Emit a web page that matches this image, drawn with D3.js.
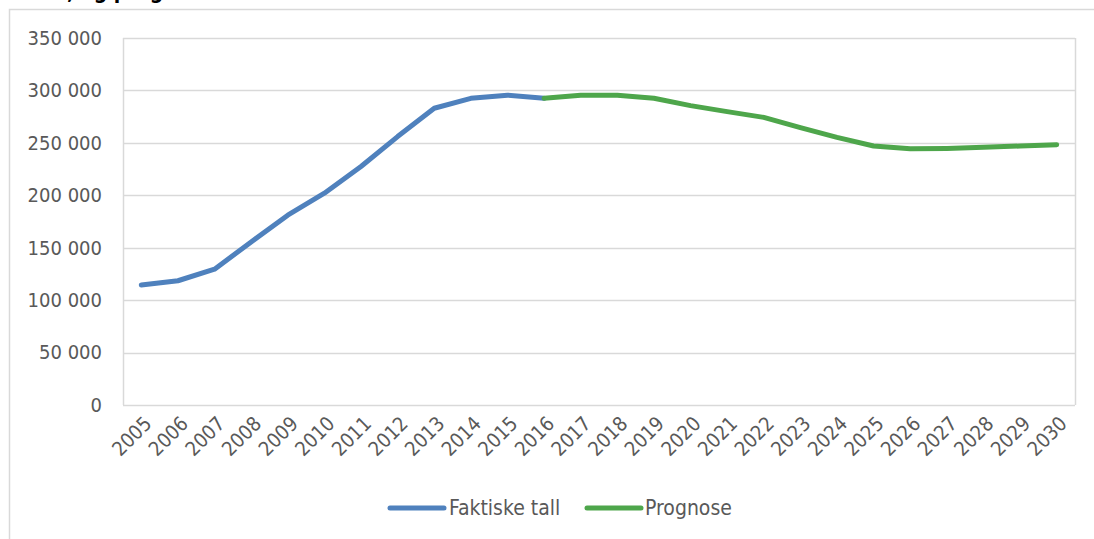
<!DOCTYPE html>
<html>
<head>
<meta charset="utf-8">
<script src="https://cdn.jsdelivr.net/npm/d3@7/dist/d3.min.js"></script>
<style>
  body { margin: 0; background: #fff; }
  svg { display: block; }
</style>
</head>
<body>
<div class="wrap"></div>
<script>
const years = ["2005","2006","2007","2008","2009","2010","2011","2012","2013","2014","2015","2016","2017",
  "2018","2019","2020","2021","2022","2023","2024","2025","2026","2027","2028","2029","2030"];
// faktiske tall 2005-2016
const actualYears = years.slice(0, 12);
const actualValues = [114500, 118500, 129500, 155500, 181000, 202000, 227500, 256000, 283000, 292500, 295500, 292500];
// prognose 2016-2030
const forecastYears = years.slice(11);
const forecastValues = [292500, 295300, 295500, 292500, 285500, 279800, 274300, 264500, 255200, 247000, 244300, 244700, 245700, 247000, 248200];
const yTicks = [0, 50000, 100000, 150000, 200000, 250000, 300000, 350000];
const seriesNames = ["Faktiske tall", "Prognose"];
const colors = ["#4f81bd", "#4ea64b"];

const W = 1094, H = 539;
const font = "'DejaVu Sans Condensed', 'DejaVu Sans', sans-serif";
const plot = {left: 123, right: 1075, top: 38, bottom: 405};

const svg = d3.select(".wrap").append("svg")
    .attr("width", W).attr("height", H)
    .attr("viewBox", [0, 0, W, H]);

// ytre ramme (beskåret)
svg.append("path")
    .attr("d", "M9.5," + H + "V9.5H" + W)
    .attr("fill", "none")
    .attr("stroke", "#d9d9d9")
    .attr("stroke-width", 1.5);

// tittel, nesten helt utenfor bildet
svg.append("text")
    .attr("x", 67).attr("y", -1)
    .attr("font-family", font)
    .attr("font-weight", "bold")
    .attr("font-size", 21)
    .attr("fill", "#000")
    .text(", og prognose");

const x = d3.scalePoint().domain(years).range([plot.left, plot.right]).padding(0.5);
const y = d3.scaleLinear().domain([0, 350000]).range([plot.bottom, plot.top]);

// rutenett
svg.append("g")
    .selectAll("line")
    .data(yTicks)
    .join("line")
    .attr("x1", plot.left).attr("x2", plot.right)
    .attr("y1", d => Math.round(y(d)) + 0.5).attr("y2", d => Math.round(y(d)) + 0.5)
    .attr("stroke", "#d9d9d9")
    .attr("stroke-width", 1.5);

[plot.left, plot.right].forEach(px => {
  svg.append("line")
      .attr("x1", px + 0.5).attr("x2", px + 0.5)
      .attr("y1", plot.top).attr("y2", plot.bottom)
      .attr("stroke", "#d9d9d9")
      .attr("stroke-width", 1.5);
});

// y-akse
const fmt = v => d3.format(",")(v).replace(/,/g, " ");
const yAxis = d3.axisLeft(y).tickValues(yTicks).tickFormat(fmt).tickSize(0).tickPadding(21);
svg.append("g")
    .attr("transform", "translate(" + plot.left + ",0)")
    .call(yAxis)
    .call(g => g.select(".domain").remove())
    .selectAll("text")
    .attr("font-family", font)
    .attr("font-size", 20)
    .attr("fill", "#595959");

// x-akse
const xAxis = d3.axisBottom(x).tickSize(0).tickPadding(0);
svg.append("g")
    .attr("transform", "translate(0," + plot.bottom + ")")
    .call(xAxis)
    .call(g => g.select(".domain").remove())
    .selectAll("text")
    .attr("font-family", font)
    .attr("font-size", 20)
    .attr("fill", "#595959")
    .attr("dy", null)
    .attr("y", 0)
    .style("text-anchor", "end")
    .attr("transform", "translate(11,20) rotate(-45)");

// linjer
const line = d3.line().x(d => x(d[0])).y(d => y(d[1]));
const series = [
  d3.zip(actualYears, actualValues),
  d3.zip(forecastYears, forecastValues)
];
series.forEach((s, i) => {
  svg.append("path")
      .datum(s)
      .attr("d", line)
      .attr("fill", "none")
      .attr("stroke", colors[i])
      .attr("stroke-width", 5)
      .attr("stroke-linejoin", "round")
      .attr("stroke-linecap", "round");
});

// tegnforklaring
const legendY = 508;
const legendItems = [{x: 390, tx: 449}, {x: 587, tx: 645}];
legendItems.forEach((it, i) => {
  svg.append("line")
      .attr("x1", it.x).attr("x2", it.x + 54)
      .attr("y1", legendY).attr("y2", legendY)
      .attr("stroke", colors[i])
      .attr("stroke-width", 5)
      .attr("stroke-linecap", "round");
  svg.append("text")
      .attr("x", it.tx).attr("y", legendY)
      .attr("dy", "0.35em")
      .attr("font-family", font)
      .attr("font-size", 21)
      .attr("fill", "#595959")
      .text(seriesNames[i]);
});
</script>
</body>
</html>
